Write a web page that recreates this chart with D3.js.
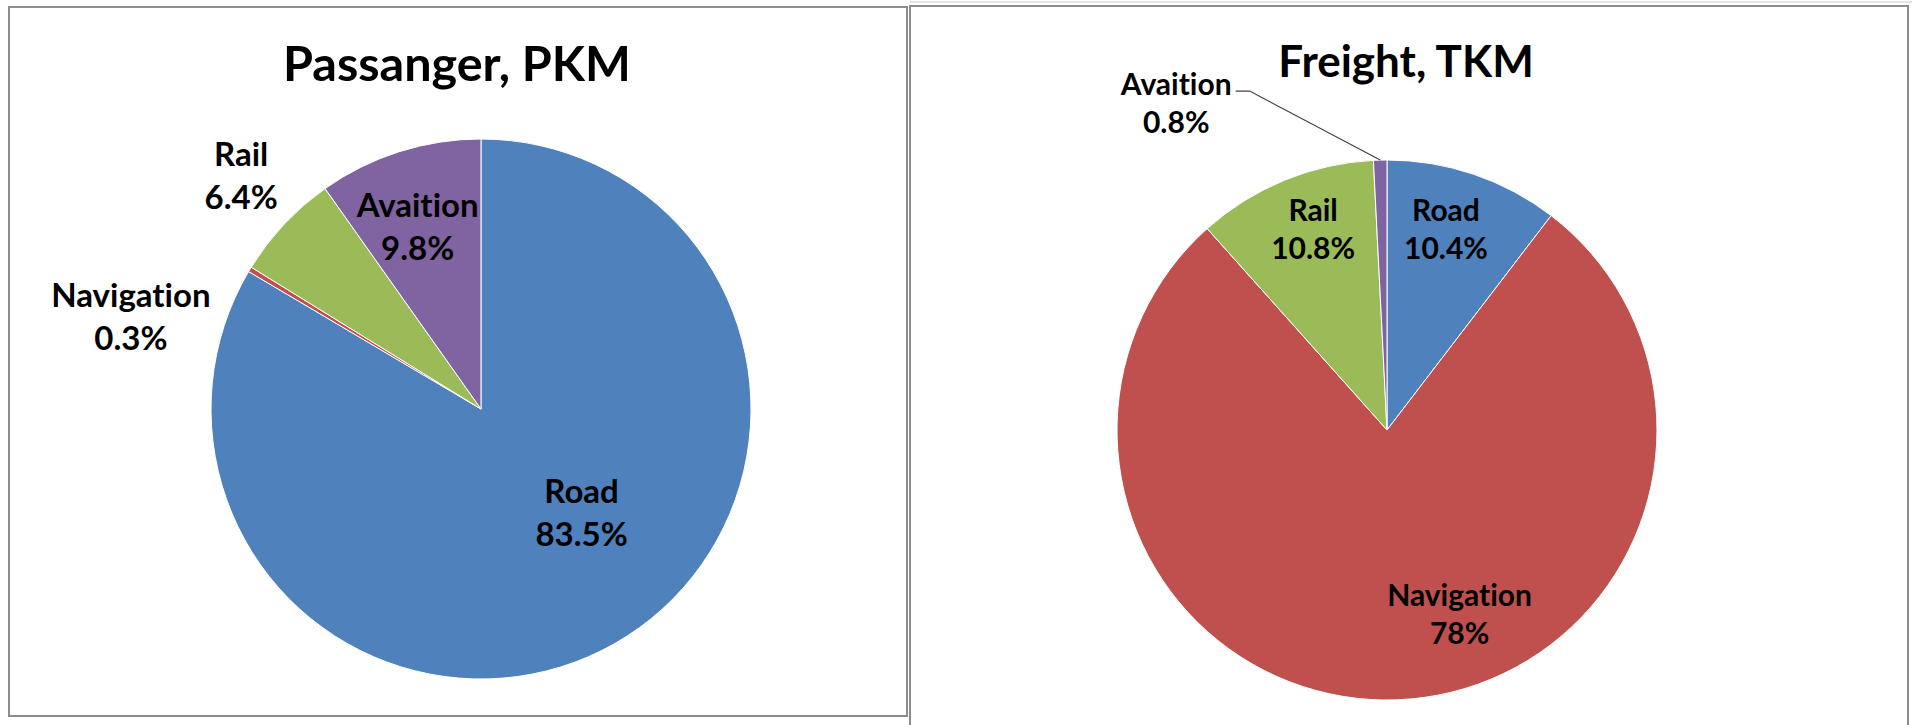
<!DOCTYPE html>
<html>
<head>
<meta charset="utf-8">
<script src="https://cdn.jsdelivr.net/npm/d3@7"></script>
<style>
  html, body { margin: 0; padding: 0; background: #fff; }
  svg { display: block; }
  text { font-family: Lato, "Open Sans", sans-serif; font-weight: 700; fill: #000;
         font-variant-ligatures: none; font-feature-settings: "liga" 0, "clig" 0; }
</style>
</head>
<body>
<svg id="chart" width="1912" height="725"></svg>
<script>
// ---- data ----
const categories = ["Road", "Navigation", "Rail", "Avaition"];
const colors = ["#4F81BD", "#C0504D", "#9BBB59", "#8064A2"];
const passengerValues = [83.5, 0.3, 6.4, 9.8];
const passengerLabels = ["83.5%", "0.3%", "6.4%", "9.8%"];
const freightValues = [10.4, 78, 10.8, 0.8];
const freightLabels = ["10.4%", "78%", "10.8%", "0.8%"];
const titles = ["Passanger, PKM", "Freight, TKM"];

// ---- layout (positions / styles) ----
const panels = [
  { x: 9, y: 7, w: 898, h: 709, cx: 481, cy: 409, r: 270, titleX: 457, titleY: 81, titleSize: 48.5,
    labelSize: 33, lineGap: 43,
    labelR: [0.55, 1.0, 1.0, 0.75],
    nudge: [[27, -24], [-119, 49], [-43, -47], [-2, 12]],
    leader: [false, false, false, false] },
  { x: 910, y: 6, w: 998, h: 725, cx: 1387, cy: 430, r: 270, titleX: 1406, titleY: 77, titleSize: 44,
    labelSize: 30, lineGap: 38,
    labelR: [0.75, 0.55, 0.75, 1.0],
    nudge: [[-6, -6], [67, 39], [3, -11], [-204, -54]],
    leader: [false, false, false, true] }
];

const svg = d3.select("#chart");
svg.append("rect").attr("width", 1912).attr("height", 725).attr("fill", "#fff");
svg.append("line").attr("x1", 910).attr("x2", 1912).attr("y1", 2).attr("y2", 2)
  .attr("stroke", "#e4e4e4").attr("stroke-width", 2);

const color = d3.scaleOrdinal().domain(categories).range(colors);
const datasets = [
  { values: passengerValues, labels: passengerLabels },
  { values: freightValues, labels: freightLabels }
];

datasets.forEach((ds, i) => {
  const P = panels[i];
  svg.append("rect")
    .attr("x", P.x).attr("y", P.y).attr("width", P.w).attr("height", P.h)
    .attr("fill", "#fff").attr("stroke", "#8c8c8c").attr("stroke-width", 2);

  svg.append("text")
    .attr("x", P.titleX).attr("y", P.titleY)
    .attr("text-anchor", "middle")
    .attr("font-size", P.titleSize)
    .text(titles[i]);

  const data = categories.map((c, k) => ({ cat: c, value: ds.values[k], label: ds.labels[k] }));
  const pie = d3.pie().sort(null).value(d => d.value);
  const arcs = pie(data);
  const arc = d3.arc().innerRadius(0).outerRadius(P.r);

  const g = svg.append("g").attr("transform", `translate(${P.cx},${P.cy})`);
  g.selectAll("path").data(arcs).join("path")
    .attr("d", arc)
    .attr("fill", d => color(d.data.cat))
    .attr("stroke", "#fff")
    .attr("stroke-width", 1);

  arcs.forEach((a, k) => {
    const lr = P.r * P.labelR[k];
    const la = d3.arc().innerRadius(lr).outerRadius(lr);
    const c = la.centroid(a);
    const lx = c[0] + P.nudge[k][0];
    const ly = c[1] + P.nudge[k][1];
    const t = g.append("text")
      .attr("text-anchor", "middle")
      .attr("font-size", P.labelSize);
    const first = t.append("tspan").attr("x", lx).attr("y", ly - 11).text(a.data.cat);
    t.append("tspan").attr("x", lx).attr("y", ly - 11 + P.lineGap).text(a.data.label);

    if (P.leader[k]) {
      const bb = first.node().getBBox();
      const sx = bb.x + bb.width + 4;
      const sy = ly - 11 - 4;
      const outer = d3.arc().innerRadius(P.r).outerRadius(P.r).centroid(a);
      g.append("path")
        .attr("d", d3.line()([[sx, sy], [sx + 14, sy], outer]))
        .attr("fill", "none")
        .attr("stroke", "#404040")
        .attr("stroke-width", 1.2);
    }
  });
});
</script>
</body>
</html>
